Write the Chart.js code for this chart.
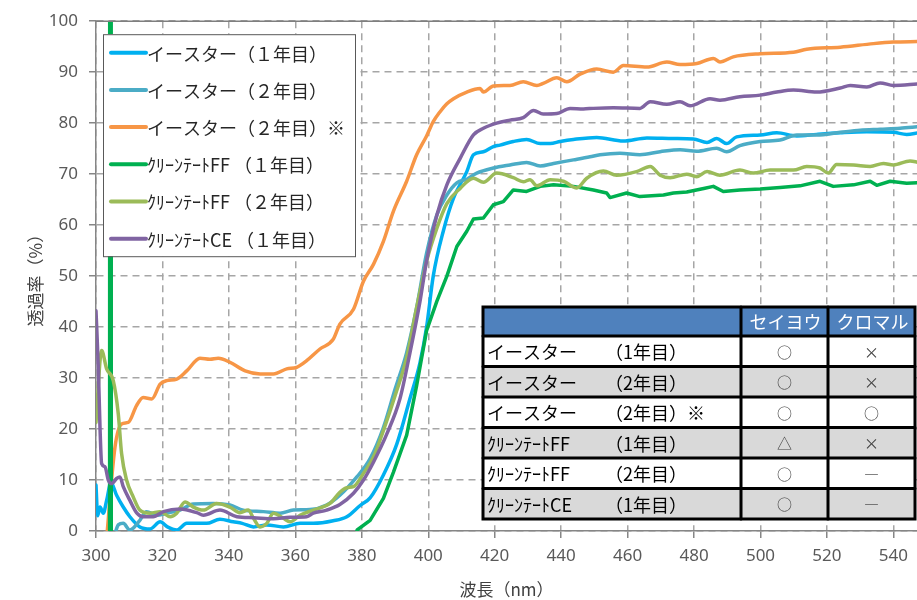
<!DOCTYPE html>
<html>
<head>
<meta charset="utf-8">
<script src="https://cdn.jsdelivr.net/npm/chart.js@4/dist/chart.umd.min.js"></script>
<style>
  html, body { margin: 0; padding: 0; background: #ffffff; }
  #wrap { position: relative; width: 917px; height: 600px; }
</style>
</head>
<body>
<div id="wrap"><canvas id="c" width="917" height="600"></canvas></div>
<script>
// ---------- data ----------
const seriesLabels = [
  "イースター（１年目）",
  "イースター（２年目）",
  "イースター（２年目）※",
  "ｸﾘｰﾝﾃｰﾄFF （１年目）",
  "ｸﾘｰﾝﾃｰﾄFF （２年目）",
  "ｸﾘｰﾝﾃｰﾄCE （１年目）"
];
const seriesColors = ["#00B0F0", "#4BACC6", "#F79646", "#00B050", "#9BBB59", "#8064A2"];

const xTickValues = [300, 320, 340, 360, 380, 400, 420, 440, 460, 480, 500, 520, 540];
const yTickValues = [0, 10, 20, 30, 40, 50, 60, 70, 80, 90, 100];

// イースター（１年目）
const eastar1Nm = [300, 300.5, 301.2, 302.2, 303.2, 304.5, 306.2, 308.2, 310.2, 313.2, 316.3, 319.3, 321.5, 324.3, 327.3, 333.3, 337.3, 341.3, 344, 347.4, 351.4, 356.4, 361.4, 365.4, 371.4, 375.5, 379.5, 382.5, 386.5, 390.5, 394.5, 397.5, 399.5, 401.5, 404.6, 407.6, 411.6, 413.6, 416.6, 419.6, 421.6, 425.6, 429.6, 433.7, 436.7, 439.7, 443.7, 450.7, 458.7, 465.8, 473.8, 479.8, 483.9, 486.8, 489.8, 492.8, 499.9, 504.9, 510.9, 516.9, 524, 532, 540, 544, 547.5];
const eastar1T  = [9, 3, 4.7, 3.5, 6, 9.5, 7, 4.7, 2.8, 0.8, 0.4, 1.8, 0.8, 0.2, 1.5, 1.5, 2.3, 1.8, 1.5, 0.8, 1.2, 0.8, 1.5, 1.5, 2, 2.8, 5, 6.5, 11, 17, 26, 33, 40, 50, 59, 65.3, 70.5, 73.8, 74.4, 75.4, 75.7, 76.4, 76.8, 76, 76, 76.4, 76.8, 77.2, 76.5, 77.1, 77, 76.9, 76.2, 77, 76, 77.3, 77.7, 78.1, 77.5, 77.8, 78.1, 78.3, 78.2, 77.8, 78.1];

// イースター（２年目）
const eastar2Nm = [305.5, 306.7, 308.2, 310.2, 313.2, 315.2, 318.3, 321.3, 325.3, 329.3, 335.3, 340.3, 344.3, 350.4, 355.4, 359.4, 364.4, 369.4, 373.4, 378.5, 382.5, 386.5, 390, 393.5, 396.5, 399.5, 402.6, 405.6, 408.6, 411.6, 414.6, 419.6, 424.6, 429.6, 433.7, 437.7, 443.7, 448.7, 451.7, 457.7, 463.7, 469.8, 475.8, 480.8, 486.8, 489.8, 493.8, 499.9, 505.9, 510.9, 516.9, 524, 530, 536, 542, 547.5];
const eastar2T  = [-1, 1.2, 1.5, 0.2, 2.1, 3.8, 3.1, 3.5, 4.1, 5.3, 5.4, 5.1, 4.1, 3.8, 3.5, 4.1, 4.2, 5.1, 7, 10.6, 14.2, 20.3, 27.8, 35, 43.8, 54.5, 62, 65.9, 68.3, 69, 70.2, 71.2, 71.8, 72.3, 71.6, 72.1, 72.8, 73.4, 73.8, 74.1, 73.8, 74.4, 74.8, 74.5, 75.1, 74.4, 75.6, 76.4, 76.7, 77.7, 77.7, 78.2, 78.6, 78.8, 79, 79.3];

// イースター（２年目）※
const eastar2sNm = [303.0, 305.7, 307.7, 309.7, 312.2, 314.2, 316.8, 319.3, 321.3, 324.3, 327.3, 331.3, 334.3, 336.8, 340.3, 344.9, 349.4, 353.4, 357.4, 360.4, 363.4, 367.4, 371.4, 373.4, 377.5, 380.5, 383.5, 386.5, 389.5, 393.5, 396.5, 399.5, 401.5, 403.5, 405.6, 407.6, 411.6, 415.6, 416.6, 419.6, 424.6, 428.6, 432.7, 434.6, 438.7, 441.7, 445.7, 450.7, 455.7, 458.7, 465.8, 471.8, 475.8, 480.8, 485.8, 487.8, 491.8, 499.9, 509.9, 513.9, 524, 534, 540, 547.5];
const eastar2sT  = [-3, 16.4, 21, 21.3, 24.6, 26.2, 25.9, 28.8, 29.5, 29.8, 31.4, 33.9, 33.7, 33.9, 33.1, 31.4, 30.8, 30.8, 31.8, 32.1, 33.4, 35.7, 37.6, 40.6, 43.5, 49, 52.3, 56.8, 62.7, 68.6, 73.8, 77.5, 80.3, 82.2, 83.8, 84.8, 86.1, 86.8, 86.1, 87.3, 87.4, 88.1, 87.4, 87.8, 88.9, 88.1, 89.6, 90.6, 90, 91.3, 91, 92, 91.5, 91.7, 92.7, 92, 93, 93.6, 93.9, 94.5, 94.9, 95.6, 95.9, 96];

// ｸﾘｰﾝﾃｰﾄFF（１年目）
const ffYear1Nm = [300, 304.1, 304.35, 304.6, 377.8, 378.6, 382.5, 386.5, 389.5, 393.5, 396.5, 399.5, 402.6, 405.6, 408.6, 411.6, 413.6, 416.6, 419.6, 422.6, 425.6, 429.6, 433.7, 437.7, 443.7, 449.7, 453.7, 454.7, 459.7, 463.7, 470.8, 473.8, 477.8, 482.9, 485.8, 488.8, 493.8, 499.9, 505.9, 511.9, 517.9, 521.9, 528, 533, 535, 539, 544, 547.5];
const ffYear1T  = [-3, -3, 1000, -3, -2, 0.2, 2.1, 6.4, 11.5, 18.8, 28.5, 39.3, 45.1, 50, 55.8, 58.8, 61.2, 61.4, 64, 64.6, 66.9, 66.6, 67.6, 67.9, 67.6, 66.9, 66.3, 65.4, 66.3, 65.6, 65.9, 66.3, 66.5, 67.2, 67.6, 66.6, 66.9, 67.1, 67.4, 67.7, 68.6, 67.6, 67.9, 68.6, 67.8, 68.6, 68.2, 68.3];

// ｸﾘｰﾝﾃｰﾄFF（２年目）
const ffYear2Nm = [300, 301.7, 303.2, 305.2, 306.7, 307.7, 309.2, 311.2, 313.2, 316.3, 319.3, 322.3, 324.3, 326.8, 329.3, 332.3, 336.3, 340.3, 343.3, 345.8, 347.4, 349.4, 351.4, 353.4, 356.4, 358.4, 361.4, 365.4, 370.4, 373.4, 375.5, 377.5, 380.5, 383.5, 386.5, 390.5, 393.5, 396.5, 399.5, 402.6, 405.6, 409.6, 413.6, 416.6, 420.6, 425.6, 428.6, 430.6, 432.7, 436.7, 440.7, 444.7, 447.7, 452.7, 456.7, 462.7, 466.8, 469.8, 472.8, 477.8, 480.8, 483.9, 487.8, 493.8, 497.8, 502.9, 509.9, 513.9, 517.9, 520.4, 522.9, 528, 533, 537, 540, 545, 547.5];
const ffYear2T  = [21.3, 35.4, 31.8, 29.5, 23, 15.2, 10, 6.7, 4.1, 3.5, 3.8, 2.8, 3.5, 5.7, 4.7, 4.1, 5.4, 4.7, 3.6, 4.1, 2.5, 0.8, 1.5, 3.5, 2.5, 1.8, 3.1, 4.1, 5.4, 7.6, 8.5, 8.7, 11.3, 14.5, 19.7, 27.5, 34, 43.8, 52.9, 59.4, 64.2, 67.2, 69.2, 68.4, 70.2, 69.3, 68.5, 68.9, 67.7, 68.9, 68.6, 67.3, 69.2, 70.6, 69.8, 70.5, 71.5, 69.8, 69.3, 70, 69.5, 70.5, 69.8, 70.8, 70.2, 70.8, 70.8, 71.5, 71.2, 70.2, 71.9, 71.8, 71.5, 72.1, 71.8, 72.6, 72.3];

// ｸﾘｰﾝﾃｰﾄCE（１年目）
const ce1Nm = [300, 300.7, 301.2, 301.7, 302.7, 303.7, 304.7, 306.2, 307.2, 308.2, 310.2, 312.3, 314.2, 317.2, 320.3, 325.3, 330.3, 332.3, 337.3, 342.4, 347.4, 353.4, 358.4, 363.4, 365.4, 369.4, 373.4, 377.5, 380.5, 383.5, 387.5, 391.5, 394.5, 397.5, 399.5, 402.6, 405.6, 409.6, 413.6, 416.6, 420.6, 424.6, 428.6, 431.7, 434.6, 438.7, 442.7, 446.7, 449.7, 455.7, 463.7, 466.8, 471.8, 475.8, 478.8, 484.8, 487.8, 493.8, 499.9, 504.9, 509.9, 516.9, 524, 527, 532, 536, 540, 547.5];
const ce1T  = [43.2, 32, 20.4, 13.2, 12.6, 10, 9.3, 10.3, 10.6, 8.7, 6, 3.5, 2.8, 2.8, 3.8, 4.3, 3.6, 3.1, 4.1, 2.8, 2.6, 2.4, 2.7, 2.8, 3.5, 4.1, 5.2, 7.4, 10, 13.5, 19, 26, 35, 45, 53, 62, 67.9, 73.1, 77.7, 79, 80, 80.6, 81.1, 82.5, 81.8, 81.9, 82.9, 82.8, 82.9, 83, 82.9, 84.2, 83.7, 84.2, 83.4, 84.8, 84.5, 85.2, 85.5, 86.1, 86.5, 86.1, 86.9, 87.4, 87.1, 87.9, 87.4, 87.7];

// table
const tableHeaders = ["", "セイヨウ", "クロマル"];
const tableNames = ["イースター", "イースター", "イースター", "ｸﾘｰﾝﾃｰﾄFF", "ｸﾘｰﾝﾃｰﾄFF", "ｸﾘｰﾝﾃｰﾄCE"];
const tableYears = ["（1年目）", "（2年目）", "（2年目）※", "（1年目）", "（2年目）", "（1年目）"];
const tableSeiyou = ["○", "○", "○", "△", "○", "○"];
const tableKuromaru = ["×", "×", "○", "×", "―", "―"];

// ---------- chart ----------
const seriesNm = [eastar1Nm, eastar2Nm, eastar2sNm, ffYear1Nm, ffYear2Nm, ce1Nm];
const seriesT = [eastar1T, eastar2T, eastar2sT, ffYear1T, ffYear2T, ce1T];

const JP = '"Noto Sans CJK JP", sans-serif';
const NUM = '"Noto Sans", "Noto Sans CJK JP", sans-serif';

const datasets = seriesLabels.map((label, i) => ({
  label,
  data: seriesNm[i].map((x, k) => ({ x, y: seriesT[i][k] })),
  borderColor: seriesColors[i],
  backgroundColor: seriesColors[i],
  borderWidth: 3.5,
  pointRadius: 0,
  fill: false,
  tension: i === 3 ? 0 : 0.3,
  cubicInterpolationMode: i === 3 ? 'default' : 'monotone',
  borderJoinStyle: 'round',
  borderCapStyle: 'round',
  order: seriesLabels.length - i
}));

const overlayPlugin = {
  id: 'overlay',
  afterDatasetsDraw(chart) {
    const ctx = chart.ctx;
    const a = chart.chartArea;
    ctx.save();
    // top border
    ctx.strokeStyle = '#7f7f7f';
    ctx.lineWidth = 1.5;
    ctx.beginPath();
    ctx.moveTo(a.left, a.top);
    ctx.lineTo(a.right, a.top);
    ctx.stroke();

    // legend box
    const lx = a.left + 7, ly = a.top + 13, lw = 252, lh = 222;
    ctx.fillStyle = '#ffffff';
    ctx.fillRect(lx, ly, lw, lh);
    ctx.strokeStyle = '#595959';
    ctx.lineWidth = 1;
    ctx.strokeRect(lx + 0.5, ly + 0.5, lw, lh);
    ctx.font = '18px ' + JP;
    ctx.textBaseline = 'middle';
    ctx.textAlign = 'left';
    chart.data.datasets.forEach((ds, i) => {
      const cy = ly + 18.5 + i * 37.2;
      ctx.strokeStyle = ds.borderColor;
      ctx.lineWidth = 4;
      ctx.lineCap = 'round';
      ctx.beginPath();
      ctx.moveTo(lx + 8, cy);
      ctx.lineTo(lx + 43, cy);
      ctx.stroke();
      ctx.fillStyle = '#262626';
      ctx.fillText(ds.label, lx + 44, cy + 1);
    });

    // table
    const tx = 483, ty = 307;
    const colW = [258, 87, 87];
    const headH = 29, rowH = 30.5;
    const totalW = colW[0] + colW[1] + colW[2];
    const totalH = headH + rowH * tableNames.length;
    ctx.fillStyle = '#4F81BD';
    ctx.fillRect(tx, ty, totalW, headH);
    tableNames.forEach((n, r) => {
      ctx.fillStyle = r % 2 === 0 ? '#ffffff' : '#D9D9D9';
      ctx.fillRect(tx, ty + headH + r * rowH, totalW, rowH);
    });
    // header text
    ctx.font = '18px ' + JP;
    ctx.fillStyle = '#ffffff';
    ctx.textAlign = 'center';
    let cx = tx;
    tableHeaders.forEach((h, c) => {
      ctx.fillText(h, cx + colW[c] / 2 + 1, ty + headH / 2 + 1);
      cx += colW[c];
    });
    // rows
    tableNames.forEach((n, r) => {
      const cyy = ty + headH + r * rowH + rowH / 2 + 1;
      ctx.fillStyle = '#000000';
      ctx.textAlign = 'left';
      ctx.font = '18px ' + JP;
      ctx.fillText(n, tx + 4, cyy);
      ctx.fillText(tableYears[r], tx + 122, cyy);
      ctx.textAlign = 'center';
      ctx.font = '15px ' + JP;
      ctx.fillStyle = '#404040';
      ctx.fillText(tableSeiyou[r], tx + colW[0] + colW[1] / 2, cyy);
      ctx.fillText(tableKuromaru[r], tx + colW[0] + colW[1] + colW[2] / 2, cyy);
    });
    // borders
    ctx.strokeStyle = '#000000';
    ctx.lineWidth = 3;
    ctx.strokeRect(tx, ty, totalW, totalH);
    ctx.beginPath();
    let vx = tx;
    for (let c = 0; c < colW.length - 1; c++) {
      vx += colW[c];
      ctx.moveTo(vx, ty);
      ctx.lineTo(vx, ty + totalH);
    }
    for (let r = 0; r < tableNames.length; r++) {
      const hy = ty + headH + r * rowH;
      ctx.moveTo(tx, hy);
      ctx.lineTo(tx + totalW, hy);
    }
    ctx.stroke();
    ctx.restore();
  }
};

new Chart(document.getElementById('c'), {
  type: 'line',
  data: { datasets },
  plugins: [overlayPlugin],
  options: {
    responsive: false,
    animation: false,
    devicePixelRatio: 1,
    layout: { padding: { top: 19, right: 0, bottom: 0, left: 25 } },
    plugins: { legend: { display: false }, tooltip: { enabled: false } },
    scales: {
      x: {
        type: 'linear',
        min: 300,
        max: 547.1,
        afterBuildTicks: (s) => { s.ticks = xTickValues.map(v => ({ value: v })); },
        afterFit: (s) => { s.height = 69; },
        ticks: {
          color: '#595959',
          font: { size: 17, family: NUM },
          padding: 8,
          maxRotation: 0,
          autoSkip: false
        },
        grid: {
          color: '#a6a6a6',
          lineWidth: 1.5,
          tickLength: 7,
          tickColor: '#868686',
          tickBorderDash: []
        },
        border: { display: true, color: '#868686', width: 1.5, dash: [7, 5] },
        title: {
          display: true,
          text: '波長（nm）',
          color: '#404040',
          font: { size: 17, family: JP },
          padding: { top: 0, bottom: 0 }
        }
      },
      y: {
        min: 0,
        max: 100,
        afterBuildTicks: (s) => { s.ticks = yTickValues.map(v => ({ value: v })); },
        afterFit: (s) => { s.width = 71; },
        ticks: {
          color: '#595959',
          font: { size: 17, family: NUM },
          padding: 11
        },
        grid: {
          color: '#a6a6a6',
          lineWidth: 1.5,
          tickLength: 7,
          tickColor: '#868686',
          tickBorderDash: []
        },
        border: { display: true, color: '#868686', width: 1.5, dash: [7, 5] },
        title: {
          display: true,
          text: '透過率（%）',
          color: '#404040',
          font: { size: 17, family: JP },
          padding: { top: 0, bottom: 0 }
        }
      }
    }
  }
});
</script>
</body>
</html>
